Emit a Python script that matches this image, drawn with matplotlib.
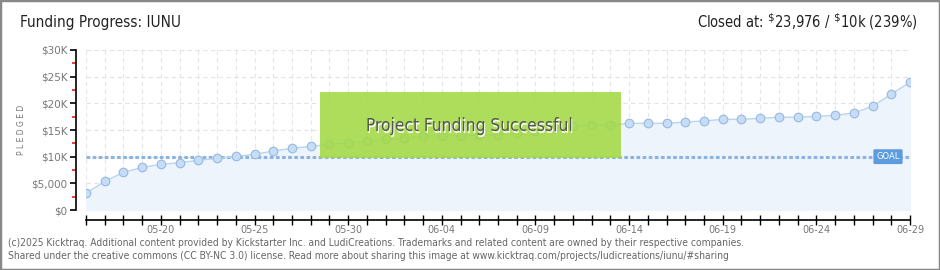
import matplotlib
matplotlib.use("Agg")
import matplotlib.pyplot as plt
import matplotlib.dates as mdates
import matplotlib.transforms as mtransforms
from matplotlib.patches import Rectangle
from matplotlib.ticker import FixedLocator
import pandas as pd

start_day = "2025-05-16"
end_day = "2025-06-29"
pledged = [3130, 5380, 7060, 8000, 8560, 8880, 9310, 9690, 10060, 10440,
           11060, 11560, 11940, 12300, 12600, 12850, 13300, 13450, 13800, 13900,
           13950, 14000, 14100, 14350, 14800, 15300, 15700, 15940, 15900, 16250,
           16250, 16250, 16500, 16700, 17000, 17000, 17200, 17400, 17400, 17550,
           17750, 18200, 19450, 21700, 23976]
goal = 10000
ytick_values = [0, 5000, 10000, 15000, 20000, 25000, 30000]
ytick_labels = ["$0", "$5,000", "$10K", "$15K", "$20K", "$25K", "$30K"]
yminor_values = [2500, 7500, 12500, 17500, 22500, 27500]
xlabel_days = ["2025-05-20", "2025-05-25", "2025-05-30", "2025-06-04", "2025-06-09",
               "2025-06-14", "2025-06-19", "2025-06-24", "2025-06-29"]

days = pd.date_range(start_day, end_day)

W, H = 940, 270
fig = plt.figure(figsize=(W / 100, H / 100), dpi=100)
fig.patch.set_facecolor("white")

ax = fig.add_axes([86 / W, (H - 210) / H, 824 / W, 160 / H])
ax.set_facecolor("white")

x = mdates.date2num(days)
ax.set_xlim(x[0], x[-1])
ax.set_ylim(0, 30000)

# grid
for xv in x:
    ax.axvline(xv, color="#e6e6e6", lw=0.8, ls=(0, (4, 3)), zorder=0)
for yv in ytick_values:
    ax.axhline(yv, color="#e2e2e2", lw=0.8, ls=(0, (4, 3)), zorder=0)

ax.fill_between(x, pledged, 0, color="#edf4fc", zorder=1)
ax.plot(x, pledged, color="#b9d5f3", lw=1, zorder=3)
ax.plot(x, pledged, ls="none", marker="o", ms=6.2, mfc="#c6ddf8",
        mec="#98b8de", mew=0.8, zorder=4)

ax.axhline(goal, color="#8cb4e2", lw=2.2, ls=(0, (1.2, 0.8)), zorder=2)

trans = mtransforms.blended_transform_factory(ax.transAxes, ax.transData)
ax.text((888 - 86) / 824, goal, "GOAL", transform=trans, ha="center", va="center",
        fontsize=6, color="white", zorder=7,
        bbox=dict(boxstyle="round,pad=0.35,rounding_size=0.15", fc="#5b9bde", ec="none"))

# success box
box = Rectangle(((320 - 86) / 824, (210 - 158) / 160), (621 - 320) / 824, (158 - 92) / 160,
                transform=ax.transAxes, facecolor="#a3d944", alpha=0.88,
                edgecolor="none", zorder=5)
ax.add_patch(box)
cx, cy = (469 - 86) / 824, (210 - 126) / 160
ax.text(cx + 0.0015, cy - 0.01, "Project Funding Successful", transform=ax.transAxes,
        ha="center", va="center", fontsize=12.4, color="white", fontstretch="condensed",
        zorder=6)
ax.text(cx, cy, "Project Funding Successful", transform=ax.transAxes,
        ha="center", va="center", fontsize=12.4, color="#555555", fontstretch="condensed",
        zorder=6)

# spines and ticks
for s in ["top", "right"]:
    ax.spines[s].set_visible(False)
ax.spines["left"].set_position(("outward", 7.2))
ax.spines["bottom"].set_position(("outward", 7.2))
ax.spines["left"].set_color("black")
ax.spines["bottom"].set_color("black")
ax.spines["left"].set_linewidth(1.2)
ax.spines["bottom"].set_linewidth(1.2)

ax.yaxis.set_major_locator(FixedLocator(ytick_values))
ax.set_yticklabels(ytick_labels)
ax.yaxis.set_minor_locator(FixedLocator(yminor_values))
ax.tick_params(axis="y", which="major", direction="out", length=4, width=1.2,
               color="black", labelsize=7.5, labelcolor="#777777", pad=2)
ax.tick_params(axis="y", which="minor", direction="out", length=3, width=1.2,
               color="#dd2222")

ax.xaxis.set_major_locator(FixedLocator(mdates.date2num(pd.to_datetime(xlabel_days))))
ax.xaxis.set_major_formatter(mdates.DateFormatter("%m-%d"))
ax.xaxis.set_minor_locator(FixedLocator(x))
ax.tick_params(axis="x", which="both", direction="inout", length=7, width=1,
               color="black", labelsize=7, labelcolor="#777777", pad=0)

ax.set_ylabel("P L E D G E D", fontsize=5.5, color="#777777", labelpad=4)

# header
fig.text(20 / W, 1 - 22 / H, "Funding Progress: IUNU", fontsize=11, color="#222222",
         ha="left", va="center", fontstretch="condensed")
fig.text(918 / W, 1 - 22 / H, r"Closed at: $^{\$}$23,976 / $^{\$}$10k (239%)", fontsize=10.5,
         color="#222222", ha="right", va="center", fontstretch="condensed")

# footer
footer = [
    "(c)2025 Kicktraq. Additional content provided by Kickstarter Inc. and LudiCreations. "
    "Trademarks and related content are owned by their respective companies.",
    "Shared under the creative commons (CC BY-NC 3.0) license. Read more about sharing this "
    "image at www.kicktraq.com/projects/ludicreations/iunu/#sharing",
]
fig.text(8 / W, 1 - 243 / H, footer[0], fontsize=7.4, color="#666666", ha="left", va="center",
         fontstretch="condensed")
fig.text(8 / W, 1 - 256 / H, footer[1], fontsize=7.4, color="#666666", ha="left", va="center",
         fontstretch="condensed")

fig.add_artist(Rectangle((0, 0), 1, 1, transform=fig.transFigure, fill=False,
                         edgecolor="#888888", lw=2.5))

fig.savefig("out.png", dpi=100)
